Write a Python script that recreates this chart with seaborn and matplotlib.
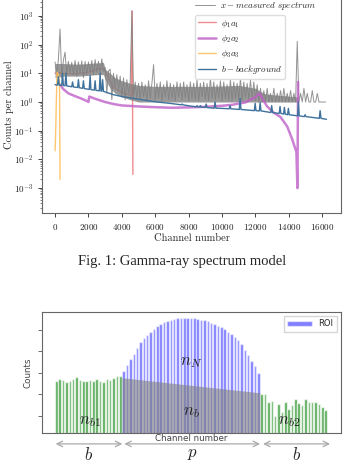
import numpy as np
import matplotlib
matplotlib.use('Agg')
import matplotlib.pyplot as plt
import seaborn as sns

# ---- top chart: gamma-ray spectrum ----
# measured spectrum x, one value every 100 channels (0 ... 16200)
spec_ch = np.arange(0, 16300, 100)
spec_counts = [
    25, 8, 30, 350, 7, 28, 55, 9, 26, 10,          # 0 - 900
    24, 9, 28, 8, 25, 10, 27, 7, 26, 9,            # 1000 - 1900
    25, 10, 28, 9, 30, 11, 26, 10, 32, 12,         # 2000 - 2900
    16, 2, 12, 14, 1.2, 10, 3, 9, 2.5, 8,          # 3000 - 3900
    1.5, 7, 1.2, 6, 2, 5, 1500, 1.5, 5, 1.3,       # 4000 - 4900
    4.5, 1.2, 5, 1.5, 4, 1.1, 5.5, 1.3, 4.5, 20,   # 5000 - 5900
    1.2, 4.5, 1.4, 5, 1.1, 4, 1.5, 5.5, 1.2, 4.5,  # 6000 - 6900
    1.3, 4, 1.1, 5, 1.5, 4.5, 1.2, 5, 1.4, 4,      # 7000 - 7900
    1.1, 5, 1.3, 4.5, 1.2, 6, 1.1, 4.5, 1.5, 5,    # 8000 - 8900
    1.2, 4.5, 1.1, 7, 1.3, 5, 1.2, 4, 1.4, 5.5,    # 9000 - 9900
    1.1, 5, 1.3, 4, 1.2, 6, 1.1, 5, 1.3, 4.5,      # 10000 - 10900
    1.2, 7, 1.1, 5, 1.4, 4.5, 1.2, 6, 1.3, 5,      # 11000 - 11900
    1.1, 4, 1.0, 3, 1.0, 2.5, 1.0, 3, 1.0, 2,      # 12000 - 12900
    1.0, 3, 1.0, 2, 1.0, 2.5, 1.0, 3, 1.0, 2,      # 13000 - 13900
    1.0, 2.5, 1.0, 2, 1.0, 130, 1.0, 2, 1.0, 3,    # 14000 - 14900
    1.0, 2, 1.0, 1.0, 2.5, 1.0, 1.0, 2, 1.0, 1.0,  # 15000 - 15900
    1.0, 1.0, 1.0,                                 # 16000 - 16200
]
# dense part of the measured spectrum (lower / upper edge of the grey band)
band_ch = [0, 500, 1000, 1500, 2000, 2500, 2900, 3000, 3300, 3600, 4000, 4500,
           5000, 6000, 7000, 8000, 9000, 10000, 11000, 12000, 12500, 13000,
           13500, 14000, 14500, 14600]
band_lo = [7, 8, 8, 8, 8.5, 9, 9, 6, 3, 2, 1.5, 1.2,
           1.0, 1.0, 1.0, 1.0, 1.0, 1.0, 1.0, 1.0, 1.0, 1.0,
           1.0, 1.0, 1.0, 1.0]
band_hi = [22, 22, 21, 21, 22, 23, 24, 14, 10, 7, 5.5, 4.5,
           3.8, 3.5, 3.5, 3.5, 3.5, 3.6, 3.8, 3.0, 2.0, 1.8,
           1.7, 1.6, 1.5, 1.0]

# phi_1 a_1 component
phi1_ch = [0, 200, 500, 1000, 1500, 2000, 2400, 2800, 3000, 3200, 3400, 3600,
           3800, 4000, 4200, 4400, 4550, 4620, 4660]
phi1_val = [10, 10.5, 10, 9.5, 10, 11, 13, 15, 12, 7, 4, 3,
            2.5, 2.2, 2.0, 1.8, 1.6, 1500, 0.003]

# phi_2 a_2 component
phi2_ch = [300, 500, 800, 1200, 1600, 1950, 2000, 2050, 2400, 3000, 3500, 4000,
           5000, 6000, 7000, 8000, 9000, 10000, 10600, 11400, 12000, 12250,
           12450, 12700, 13100, 13500, 13900, 14200, 14450, 14510, 14550]
phi2_val = [4.0, 2.8, 2.0, 1.6, 1.3, 1.05, 1.0, 1.55, 1.3, 1.0, 0.85, 0.76,
            0.7, 0.66, 0.63, 0.65, 0.68, 0.74, 0.8, 0.97, 1.5, 2.0,
            1.2, 0.7, 0.42, 0.3, 0.14, 0.05, 0.018, 0.001, 5]

# phi_3 a_3 component
phi3_ch = [0, 20, 120, 200, 270, 300]
phi3_val = [0.02, 0.035, 11, 9, 4.5, 0.002]

# b - background
bg_ch = [0, 150, 200, 250, 400, 450, 500, 600, 650, 700, 1000, 1050, 1100,
         1350, 1400, 1450, 1650, 1700, 1750, 2050, 2100, 2150, 2350, 2400,
         2450, 2650, 2700, 2750, 2800, 2850, 2900, 3500, 4000, 5000, 6000,
         7000, 7550, 7600, 7650, 8000, 8450, 8500, 8550, 8650, 8700, 8750,
         9000, 9050, 9100, 9530, 9580, 9630, 10000, 10430, 10480, 10530,
         11030, 11080, 11130, 11930, 11980, 12030, 12230, 12280, 12330,
         12920, 12970, 13020, 13420, 13470, 13520, 13680, 13730, 13780,
         13920, 13970, 14020, 14520, 14570, 14620, 14920, 14970, 15020,
         15820, 15870, 15920, 16250]
bg_val = [4.0, 3.9, 7.5, 3.85, 3.8, 10, 3.75, 3.7, 10, 3.65, 3.4, 5, 3.35,
          3.2, 6, 3.15, 3.0, 5.5, 2.95, 2.75, 8.5, 2.7, 2.6, 5.5,
          2.55, 2.45, 10, 2.4, 2.38, 6, 2.35, 1.8, 1.55, 1.25, 1.02,
          0.88, 0.8, 0.85, 0.8, 0.74, 0.68, 0.75, 0.67, 0.67, 0.75, 0.66,
          0.65, 0.85, 0.64, 0.61, 1.0, 0.61, 0.6, 0.58, 0.75, 0.58,
          0.55, 1.35, 0.55, 0.5, 0.9, 0.5, 0.49, 0.95, 0.49,
          0.43, 0.75, 0.43, 0.4, 0.7, 0.4, 0.38, 0.65, 0.38,
          0.36, 0.6, 0.36, 0.33, 1.0, 0.33, 0.31, 0.36, 0.31,
          0.27, 0.5, 0.27, 0.25]

# ---- bottom chart: ROI counts per channel ----
left_idx = np.arange(0, 20)
left_counts = [26.3, 27.1, 26.8, 25.5, 26.3, 27.1, 28.0, 26.8, 26.3, 26.3,
               26.8, 26.3, 27.1, 26.3, 25.5, 27.1, 26.8, 27.8, 28.6, 28.6]
roi_idx = np.arange(20, 61)
roi_counts = [30.7, 33.7, 36.2, 38.7, 41.7, 44.2, 46.2, 47.7, 49.2, 50.5,
              51.7, 52.7, 53.7, 54.2, 54.7, 55.0, 55.3, 55.6, 55.7, 55.7,
              55.6, 55.4, 55.1, 54.7, 54.4, 53.9, 53.3, 52.7, 52.0, 51.2,
              50.2, 49.2, 48.2, 46.7, 45.2, 43.2, 40.7, 38.2, 35.7, 33.2, 29.7]
right_idx = np.arange(61, 81)
right_counts = [20.3, 20.3, 16.2, 17.1, 9.7, 15.7, 11.7, 16.5, 13.2, 15.2,
                17.6, 15.9, 15.2, 17.6, 16.2, 16.2, 16.2, 15.7, 14.2, 12.5]
roi_bg_idx = [20, 60]
roi_bg_level = [27.7, 20.7]

sns.set_style('ticks')
plt.rcParams['font.family'] = ['cmr10', 'DejaVu Serif']
plt.rcParams['mathtext.fontset'] = 'cm'
plt.rcParams['axes.formatter.use_mathtext'] = True
plt.rcParams['axes.unicode_minus'] = False

fig = plt.figure(figsize=(3.55, 4.66), dpi=100)
ax1 = fig.add_axes([0.1183, 0.5429, 0.8423, 0.4635])
ax2 = fig.add_axes([0.1183, 0.0708, 0.8423, 0.2597])

# top chart
ax1.set_yscale('log')
ax1.fill_between(band_ch, band_lo, band_hi, color='gray', alpha=0.8, lw=0, zorder=2)
sns.lineplot(x=spec_ch, y=spec_counts, estimator=None, sort=False, color='gray',
             lw=0.7, alpha=0.85, label=r'$x-measured\ spectrum$', ax=ax1, zorder=2.1)
sns.lineplot(x=phi1_ch, y=phi1_val, estimator=None, sort=False, color='#f08080',
             lw=1.0, alpha=0.9, label=r'$\phi_1a_1$', ax=ax1, zorder=1.5)
sns.lineplot(x=phi2_ch, y=phi2_val, estimator=None, sort=False, color='#c060c8',
             lw=1.8, alpha=0.8, label=r'$\phi_2a_2$', ax=ax1, zorder=2.5)
sns.lineplot(x=phi3_ch, y=phi3_val, estimator=None, sort=False, color='#ffc060',
             lw=1.0, alpha=0.9, label=r'$\phi_3a_3$', ax=ax1, zorder=2.5)
sns.lineplot(x=bg_ch, y=bg_val, estimator=None, sort=False, color='#3f729c',
             lw=1.0, label=r'$b-background$', ax=ax1, zorder=2.6)

ax1.set_xlim(-780, 17120)
ax1.set_ylim(10 ** -3.868, 10 ** 3.659)
ax1.set_xticks(np.arange(0, 16001, 2000))
ax1.tick_params(labelsize=6.5, colors='#222222', length=3, width=0.6)
ax1.tick_params(which='minor', length=1.5, width=0.4)
for s in ax1.spines.values():
    s.set_color('#666666')
    s.set_linewidth(0.8)
ax1.set_xlabel('Channel number', fontsize=7.5, labelpad=1)
ax1.set_ylabel('Counts per channel', fontsize=7.5, labelpad=0)

if ax1.get_legend() is not None:
    ax1.get_legend().remove()
handles, labels = ax1.get_legend_handles_labels()
leg1 = ax1.legend(handles[:1], labels[:1], loc='upper left',
                  bbox_to_anchor=(0.505, 0.995), borderaxespad=0, frameon=False,
                  fontsize=6.5, handlelength=2.2, handletextpad=0.6, borderpad=0.2)
ax1.add_artist(leg1)
ax1.legend(handles[1:], labels[1:], loc='upper left', bbox_to_anchor=(0.512, 0.917),
           borderaxespad=0, frameon=True, fontsize=6.5, handlelength=2.0,
           handletextpad=0.6, labelspacing=0.35, borderpad=0.3,
           edgecolor='#dddddd', fancybox=True, framealpha=1)

# caption
fig.text(0.513, 0.438, 'Fig. 1: Gamma-ray spectrum model', ha='center', va='center',
         fontsize=10.5, family='Liberation Serif')

# bottom chart
sns.barplot(x=left_idx, y=left_counts, native_scale=True, color='green', alpha=0.65,
            saturation=1, width=0.75, errorbar=None, ax=ax2)
sns.barplot(x=roi_idx, y=roi_counts, native_scale=True, color='blue', alpha=0.5,
            saturation=1, width=0.75, errorbar=None, label='ROI', ax=ax2)
sns.barplot(x=right_idx, y=right_counts, native_scale=True, color='green', alpha=0.65,
            saturation=1, width=0.75, errorbar=None, ax=ax2)
ax2.fill_between([roi_bg_idx[0] - 0.45, roi_bg_idx[1] + 0.45], 0, roi_bg_level,
                 color='gray', alpha=0.6, lw=0)

ax2.set_xlim(-4.26, 84.56)
ax2.set_ylim(2, 58.3)
ax2.set_xticks([])
ax2.set_yticks([10, 20, 30, 40, 50])
ax2.tick_params(axis='y', labelleft=False, length=3, width=0.6, colors='#555555')
for s in ax2.spines.values():
    s.set_color('#666666')
    s.set_linewidth(0.8)
ax2.set_xlabel('Channel number', fontsize=6.3, family='DejaVu Sans', color='#444444',
               labelpad=1)
ax2.set_ylabel('Counts', fontsize=6.3, family='DejaVu Sans', color='#444444',
               labelpad=4)
ax2.legend(loc='upper right', prop={'family': 'DejaVu Sans', 'size': 6},
           handlelength=3, edgecolor='#cccccc', fancybox=False)

ax2.text(40, 34.7, r'$n_N$', fontsize=12, ha='center', va='center')
ax2.text(40, 11.4, r'$n_b$', fontsize=12, ha='center', va='center')
ax2.text(10, 7.3, r'$n_{b1}$', fontsize=12, ha='center', va='center')
ax2.text(69, 7.3, r'$n_{b2}$', fontsize=12, ha='center', va='center')

# span arrows under the axis
spans = [(-0.2, 19.6, 'b'), (20.2, 60.5, 'p'), (61.4, 81.3, 'b')]
for x0, x1, lab in spans:
    ax2.annotate('', xy=(x0, -0.09), xytext=(x1, -0.09),
                 xycoords=('data', 'axes fraction'), textcoords=('data', 'axes fraction'),
                 arrowprops=dict(arrowstyle='<->', color='#aaaaaa', lw=0.9,
                                 shrinkA=0, shrinkB=0))
    ax2.text((x0 + x1) / 2, -0.175, '$' + lab + '$', fontsize=12, ha='center',
             va='center', transform=ax2.get_xaxis_transform())

fig.savefig('out.png', dpi=100)
